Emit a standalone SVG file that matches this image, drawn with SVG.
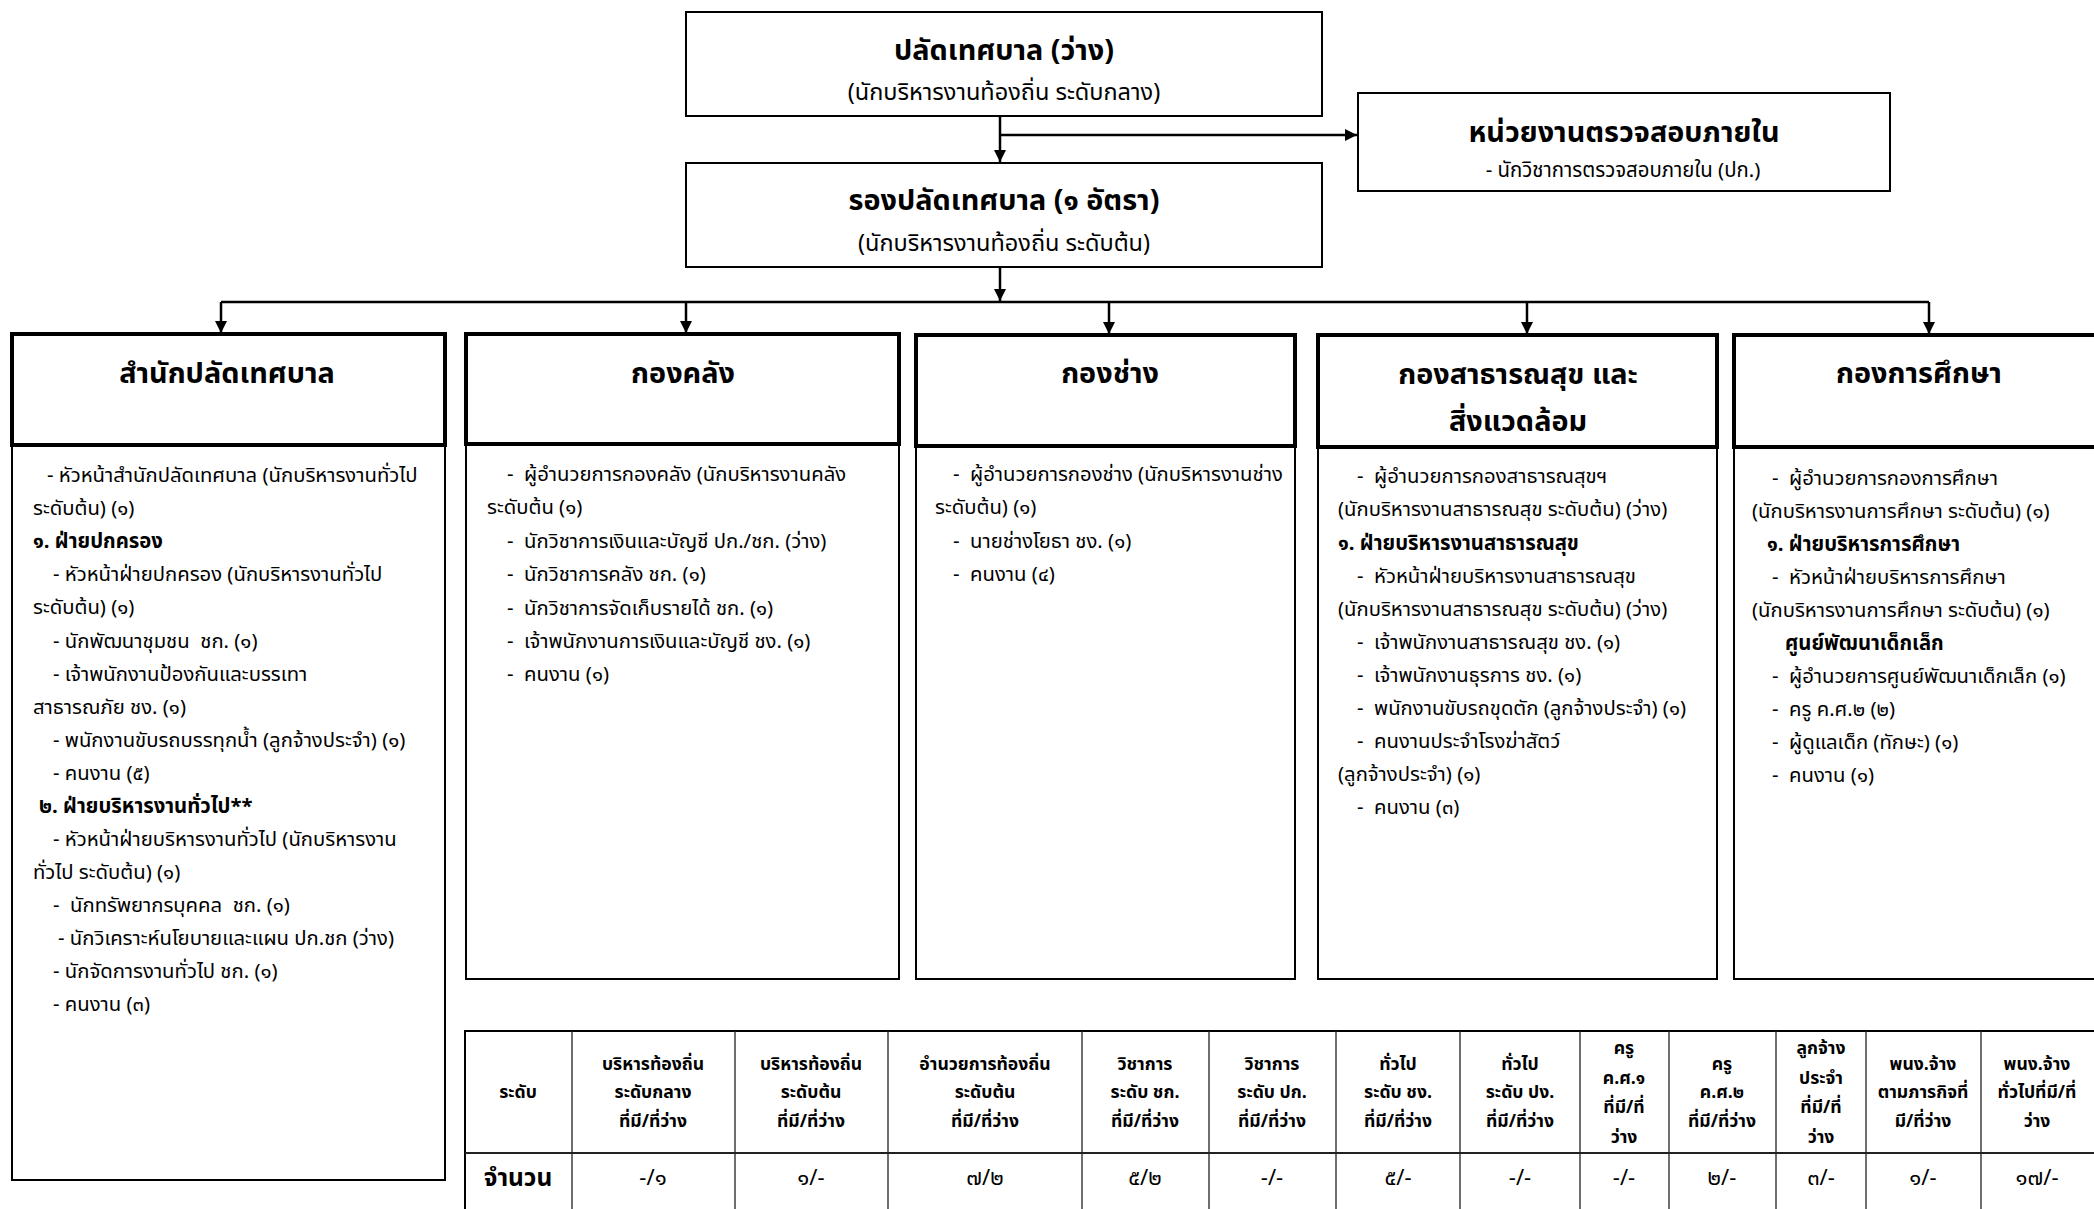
<svg xmlns="http://www.w3.org/2000/svg" width="2094" height="1209" viewBox="0 0 2094 1209">
<defs>
<style>
.bx{fill:#fff;stroke:#000;stroke-width:2}
.hd{fill:#fff;stroke:#000;stroke-width:4}
.cn{fill:none;stroke:#000;stroke-width:2.5}
text{font-family:"Noto Sans Thai","Noto Sans","DejaVu Sans",sans-serif;fill:#000;white-space:pre}
.t{font-size:20.3px}
.b{font-size:20.3px;font-weight:bold}
.h{font-size:28.8px;font-weight:bold}
.s{font-size:23.5px}
.th{font-size:17.6px;font-weight:bold;text-anchor:middle}
.td{font-size:22px;text-anchor:middle}
.m{text-anchor:middle}
.tl{fill:none;stroke:#222;stroke-width:1.3}
</style>
<marker id="ah" viewBox="0 0 10 10" refX="10" refY="5" markerUnits="userSpaceOnUse" markerWidth="15" markerHeight="12" orient="auto"><path d="M0,0 L10,5 L0,10 z" fill="#000"/></marker>
</defs>
<rect width="2094" height="1209" fill="#fff"/>

<g id="connectors">
<path class="cn" d="M1000,117 V162" marker-end="url(#ah)"/>
<path class="cn" d="M1000,135 H1357" marker-end="url(#ah)"/>
<path class="cn" d="M1000,268 V301" marker-end="url(#ah)"/>
<path class="cn" d="M221,302 H1929"/>
<path class="cn" d="M221,302 V333" marker-end="url(#ah)"/>
<path class="cn" d="M686,302 V333" marker-end="url(#ah)"/>
<path class="cn" d="M1109,302 V334" marker-end="url(#ah)"/>
<path class="cn" d="M1527,302 V334" marker-end="url(#ah)"/>
<path class="cn" d="M1929,302 V334" marker-end="url(#ah)"/>
</g>

<g id="palad">
<rect class="bx" x="686" y="12" width="636" height="104"/>
<text class="h m" x="1004" y="60">ปลัดเทศบาล (ว่าง)</text>
<text class="s m" x="1004" y="100">(นักบริหารงานท้องถิ่น ระดับกลาง)</text>
</g>

<g id="audit">
<rect class="bx" x="1358" y="93" width="532" height="98"/>
<text class="h m" x="1624" y="142">หน่วยงานตรวจสอบภายใน</text>
<text class="m" x="1623" y="177" style="font-size:20.4px">- นักวิชาการตรวจสอบภายใน (ปก.)</text>
</g>

<g id="rongpalad">
<rect class="bx" x="686" y="163" width="636" height="104"/>
<text class="h m" x="1004" y="210">รองปลัดเทศบาล (๑ อัตรา)</text>
<text class="s m" x="1004" y="251">(นักบริหารงานท้องถิ่น ระดับต้น)</text>
</g>

<g id="samnak">
<rect class="bx" x="12" y="445" width="433" height="735"/>
<rect class="hd" x="12" y="334" width="433" height="111"/>
<text class="h m" x="227" y="383">สำนักปลัดเทศบาล</text>
<text class="t" x="47" y="482">- หัวหน้าสำนักปลัดเทศบาล (นักบริหารงานทั่วไป</text>
<text class="t" x="33" y="515">ระดับต้น) (๑)</text>
<text class="b" x="33" y="548">๑. ฝ่ายปกครอง</text>
<text class="t" x="53" y="581">- หัวหน้าฝ่ายปกครอง (นักบริหารงานทั่วไป</text>
<text class="t" x="33" y="614">ระดับต้น) (๑)</text>
<text class="t" x="53" y="648">- นักพัฒนาชุมชน  ชก. (๑)</text>
<text class="t" x="53" y="681">- เจ้าพนักงานป้องกันและบรรเทา</text>
<text class="t" x="33" y="714">สาธารณภัย ชง. (๑)</text>
<text class="t" x="53" y="747">- พนักงานขับรถบรรทุกน้ำ (ลูกจ้างประจำ) (๑)</text>
<text class="t" x="53" y="780">- คนงาน (๕)</text>
<text class="b" x="39" y="813">๒. ฝ่ายบริหารงานทั่วไป**</text>
<text class="t" x="53" y="846">- หัวหน้าฝ่ายบริหารงานทั่วไป (นักบริหารงาน</text>
<text class="t" x="33" y="879">ทั่วไป ระดับต้น) (๑)</text>
<text class="t" x="53" y="912">-  นักทรัพยากรบุคคล  ชก. (๑)</text>
<text class="t" x="58" y="945">- นักวิเคราะห์นโยบายและแผน ปก.ชก (ว่าง)</text>
<text class="t" x="53" y="978">- นักจัดการงานทั่วไป ชก. (๑)</text>
<text class="t" x="53" y="1011">- คนงาน (๓)</text>
</g>

<g id="klang">
<rect class="bx" x="466" y="444" width="433" height="535"/>
<rect class="hd" x="466" y="334" width="433" height="110"/>
<text class="h m" x="683" y="383">กองคลัง</text>
<text class="t" x="507" y="481">-  ผู้อำนวยการกองคลัง (นักบริหารงานคลัง</text>
<text class="t" x="487" y="514">ระดับต้น (๑)</text>
<text class="t" x="507" y="548">-  นักวิชาการเงินและบัญชี ปก./ชก. (ว่าง)</text>
<text class="t" x="507" y="581">-  นักวิชาการคลัง ชก. (๑)</text>
<text class="t" x="507" y="615">-  นักวิชาการจัดเก็บรายได้ ชก. (๑)</text>
<text class="t" x="507" y="648">-  เจ้าพนักงานการเงินและบัญชี ชง. (๑)</text>
<text class="t" x="507" y="681">-  คนงาน (๑)</text>
</g>

<g id="chang">
<rect class="bx" x="916" y="446" width="379" height="533"/>
<rect class="hd" x="916" y="335" width="379" height="111"/>
<text class="h m" x="1110" y="383">กองช่าง</text>
<text class="t" x="953" y="481">-  ผู้อำนวยการกองช่าง (นักบริหารงานช่าง</text>
<text class="t" x="935" y="514">ระดับต้น) (๑)</text>
<text class="t" x="953" y="548">-  นายช่างโยธา ชง. (๑)</text>
<text class="t" x="953" y="581">-  คนงาน (๔)</text>
</g>

<g id="satharanasuk">
<rect class="bx" x="1318" y="447" width="399" height="532"/>
<rect class="hd" x="1318" y="335" width="399" height="112"/>
<text class="h m" x="1518" y="384">กองสาธารณสุข และ</text>
<text class="h m" x="1518" y="431">สิ่งแวดล้อม</text>
<text class="t" x="1357" y="483">-  ผู้อำนวยการกองสาธารณสุขฯ</text>
<text class="t" x="1338" y="516">(นักบริหารงานสาธารณสุข ระดับต้น) (ว่าง)</text>
<text class="b" x="1338" y="550">๑. ฝ่ายบริหารงานสาธารณสุข</text>
<text class="t" x="1357" y="583">-  หัวหน้าฝ่ายบริหารงานสาธารณสุข</text>
<text class="t" x="1338" y="616">(นักบริหารงานสาธารณสุข ระดับต้น) (ว่าง)</text>
<text class="t" x="1357" y="649">-  เจ้าพนักงานสาธารณสุข ชง. (๑)</text>
<text class="t" x="1357" y="682">-  เจ้าพนักงานธุรการ ชง. (๑)</text>
<text class="t" x="1357" y="715">-  พนักงานขับรถขุดตัก (ลูกจ้างประจำ) (๑)</text>
<text class="t" x="1357" y="748">-  คนงานประจำโรงฆ่าสัตว์</text>
<text class="t" x="1338" y="781">(ลูกจ้างประจำ) (๑)</text>
<text class="t" x="1357" y="814">-  คนงาน (๓)</text>
</g>

<g id="suksa">
<rect class="bx" x="1734" y="447" width="400" height="532"/>
<rect class="hd" x="1734" y="335" width="400" height="112"/>
<text class="h m" x="1919" y="383">กองการศึกษา</text>
<text class="t" x="1772" y="485">-  ผู้อำนวยการกองการศึกษา</text>
<text class="t" x="1752" y="518">(นักบริหารงานการศึกษา ระดับต้น) (๑)</text>
<text class="b" x="1767" y="551">๑. ฝ่ายบริหารการศึกษา</text>
<text class="t" x="1772" y="584">-  หัวหน้าฝ่ายบริหารการศึกษา</text>
<text class="t" x="1752" y="617">(นักบริหารงานการศึกษา ระดับต้น) (๑)</text>
<text class="b" x="1785" y="650">ศูนย์พัฒนาเด็กเล็ก</text>
<text class="t" x="1772" y="683">-  ผู้อำนวยการศูนย์พัฒนาเด็กเล็ก (๑)</text>
<text class="t" x="1772" y="716">-  ครู ค.ศ.๒ (๒)</text>
<text class="t" x="1772" y="749">-  ผู้ดูแลเด็ก (ทักษะ) (๑)</text>
<text class="t" x="1772" y="782">-  คนงาน (๑)</text>
</g>

<g id="table">
<rect x="465" y="1031" width="1640" height="190" fill="#fff" stroke="#000" stroke-width="2"/>
<path class="tl" d="M465,1153 H2100" style="stroke-width:2"/>
<path class="tl" d="M572,1031 V1215 M735,1031 V1215 M888,1031 V1215 M1082,1031 V1215 M1209,1031 V1215 M1336,1031 V1215 M1460,1031 V1215 M1580,1031 V1215 M1669,1031 V1215 M1776,1031 V1215 M1866,1031 V1215 M1981,1031 V1215"/>
<text class="th" x="518" y="1098">ระดับ</text>
<text class="th" x="653" y="1070">บริหารท้องถิ่น</text><text class="th" x="653" y="1098">ระดับกลาง</text><text class="th" x="653" y="1127">ที่มี/ที่ว่าง</text>
<text class="th" x="811" y="1070">บริหารท้องถิ่น</text><text class="th" x="811" y="1098">ระดับต้น</text><text class="th" x="811" y="1127">ที่มี/ที่ว่าง</text>
<text class="th" x="985" y="1070">อำนวยการท้องถิ่น</text><text class="th" x="985" y="1098">ระดับต้น</text><text class="th" x="985" y="1127">ที่มี/ที่ว่าง</text>
<text class="th" x="1145" y="1070">วิชาการ</text><text class="th" x="1145" y="1098">ระดับ ชก.</text><text class="th" x="1145" y="1127">ที่มี/ที่ว่าง</text>
<text class="th" x="1272" y="1070">วิชาการ</text><text class="th" x="1272" y="1098">ระดับ ปก.</text><text class="th" x="1272" y="1127">ที่มี/ที่ว่าง</text>
<text class="th" x="1398" y="1070">ทั่วไป</text><text class="th" x="1398" y="1098">ระดับ ชง.</text><text class="th" x="1398" y="1127">ที่มี/ที่ว่าง</text>
<text class="th" x="1520" y="1070">ทั่วไป</text><text class="th" x="1520" y="1098">ระดับ ปง.</text><text class="th" x="1520" y="1127">ที่มี/ที่ว่าง</text>
<text class="th" x="1624" y="1054">ครู</text><text class="th" x="1624" y="1084">ค.ศ.๑</text><text class="th" x="1624" y="1113">ที่มี/ที่</text><text class="th" x="1624" y="1143">ว่าง</text>
<text class="th" x="1722" y="1070">ครู</text><text class="th" x="1722" y="1098">ค.ศ.๒</text><text class="th" x="1722" y="1127">ที่มี/ที่ว่าง</text>
<text class="th" x="1821" y="1054">ลูกจ้าง</text><text class="th" x="1821" y="1084">ประจำ</text><text class="th" x="1821" y="1113">ที่มี/ที่</text><text class="th" x="1821" y="1143">ว่าง</text>
<text class="th" x="1923" y="1070">พนง.จ้าง</text><text class="th" x="1923" y="1098">ตามภารกิจที่</text><text class="th" x="1923" y="1127">มี/ที่ว่าง</text>
<text class="th" x="2037" y="1070">พนง.จ้าง</text><text class="th" x="2037" y="1098">ทั่วไปที่มี/ที่</text><text class="th" x="2037" y="1127">ว่าง</text>
<text class="td" x="518" y="1186" style="font-weight:bold;font-size:24.5px">จำนวน</text>
<text class="td" x="653" y="1185">-/๑</text>
<text class="td" x="811" y="1185">๑/-</text>
<text class="td" x="985" y="1185">๗/๒</text>
<text class="td" x="1145" y="1185">๕/๒</text>
<text class="td" x="1272" y="1185">-/-</text>
<text class="td" x="1398" y="1185">๕/-</text>
<text class="td" x="1520" y="1185">-/-</text>
<text class="td" x="1624" y="1185">-/-</text>
<text class="td" x="1722" y="1185">๒/-</text>
<text class="td" x="1821" y="1185">๓/-</text>
<text class="td" x="1923" y="1185">๑/-</text>
<text class="td" x="2037" y="1185">๑๗/-</text>
</g>
</svg>
